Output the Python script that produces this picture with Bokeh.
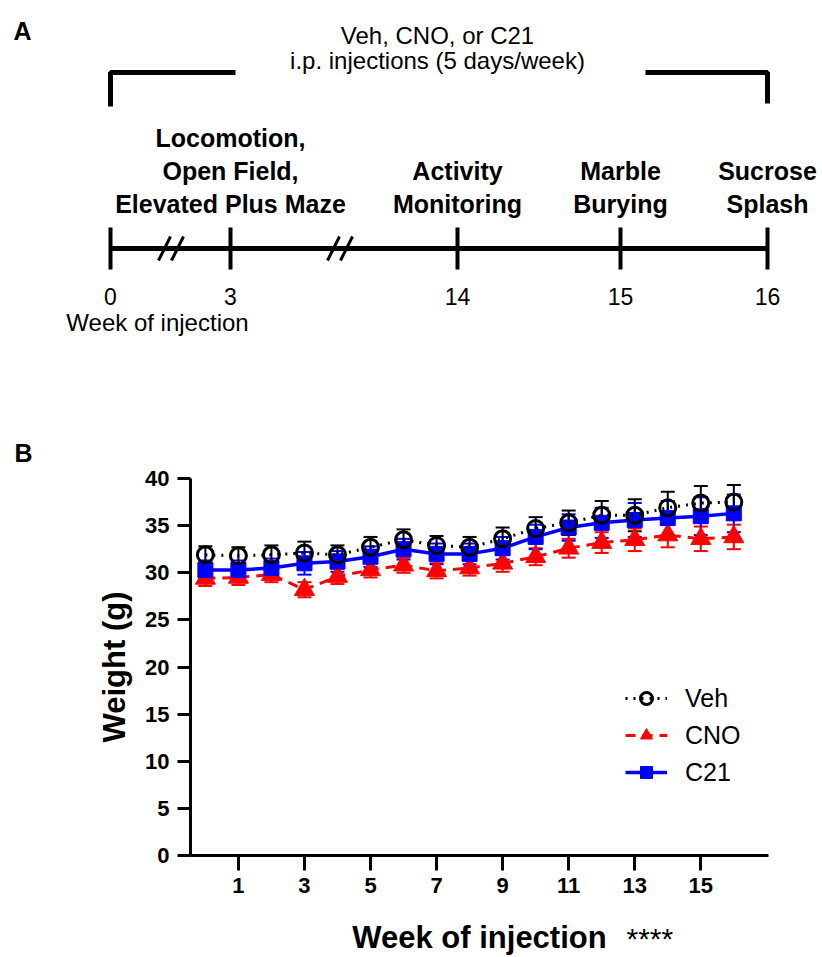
from bokeh.plotting import figure
from bokeh.models import (Range1d, Whisker, ColumnDataSource, Legend, LegendItem,
                          FixedTicker, TeeHead)
from bokeh.layouts import column
from bokeh.embed import file_html
from bokeh.resources import INLINE
from bokeh.core.properties import value

FONT = "Liberation Sans"

# ---------------- data ----------------
weeks = list(range(17))
veh_mean = [31.9, 31.8, 31.9, 32.1, 31.9, 32.7, 33.5, 32.9, 32.7, 33.6, 34.7, 35.3, 36.1, 36.1, 36.9, 37.4, 37.5]
veh_sem = [0.9, 0.9, 1.0, 1.2, 1.0, 1.1, 1.1, 1.0, 1.1, 1.2, 1.2, 1.3, 1.5, 1.7, 1.7, 1.8, 1.8]
cno_mean = [29.4, 29.5, 29.8, 28.2, 29.6, 30.3, 30.8, 30.2, 30.5, 31.0, 31.7, 32.6, 33.2, 33.5, 34.0, 33.6, 33.8]
cno_sem = [0.8, 0.8, 0.8, 0.8, 0.8, 0.8, 0.8, 0.8, 0.8, 0.9, 0.9, 1.0, 1.1, 1.2, 1.3, 1.3, 1.3]
c21_mean = [30.3, 30.3, 30.5, 31.0, 31.2, 31.7, 32.5, 32.0, 32.0, 32.6, 33.8, 34.8, 35.3, 35.6, 35.8, 36.0, 36.3]
c21_sem = [1.0, 1.0, 1.0, 1.2, 1.1, 1.1, 1.1, 1.1, 1.1, 1.2, 1.3, 1.4, 1.6, 1.8, 1.8, 2.0, 2.0]

y_ticks = [0, 5, 10, 15, 20, 25, 30, 35, 40]
x_ticks = [1, 3, 5, 7, 9, 11, 13, 15]

# timeline (panel A)
timeline_weeks = [0, 3, 14, 15, 16]
timeline_labels = ["0", "3", "14", "15", "16"]
stage_weeks = [3, 14, 15, 16]
stage_texts = [["Locomotion,", "Open Field,", "Elevated Plus Maze"],
               ["Activity", "Monitoring"],
               ["Marble", "Burying"],
               ["Sucrose", "Splash"]]
treatment_text = ["Veh, CNO, or C21", "i.p. injections (5 days/week)"]
significance = "****"

# ---------------- panel A (page pixel coordinates) ----------------
tl_pos = {0: 110, 3: 230, 14: 457, 15: 620, 16: 767}
PA_H = 466

pa = figure(width=822, height=PA_H, x_range=Range1d(0, 822), y_range=Range1d(PA_H, 0),
            output_backend="svg", toolbar_location=None, min_border=0,
            x_axis_type=None, y_axis_type=None)
pa.frame_align = False
pa.grid.visible = False
pa.outline_line_color = None

tl_y = 248
xs = [tl_pos[w] for w in timeline_weeks]
pa.segment(x0=[xs[0]], y0=[tl_y], x1=[xs[-1]], y1=[tl_y], line_color="black", line_width=5)
pa.segment(x0=xs, y0=[tl_y - 21] * len(xs), x1=xs, y1=[tl_y + 21] * len(xs),
           line_color="black", line_width=4)
# break marks
for bc in [172, 341]:
    pa.segment(x0=[bc - 14, bc - 1], y0=[tl_y + 12] * 2, x1=[bc - 2, bc + 11], y1=[tl_y - 12] * 2,
               line_color="black", line_width=3)
pa.text(x=xs, y=[tl_y + 48] * len(xs), text=timeline_labels, text_align="center",
        text_baseline="middle", text_font=value(FONT), text_font_size="23px", text_color="black")
pa.text(x=[157], y=[322], text=["Week of injection"], text_align="center", text_baseline="middle",
        text_font=value(FONT), text_font_size="24px", text_color="black")

# stage labels
for w, lines in zip(stage_weeks, stage_texts):
    n = len(lines)
    ys = [203 - 33 * (n - 1 - i) for i in range(n)]
    pa.text(x=[tl_pos[w]] * n, y=ys, text=lines, text_align="center", text_baseline="middle",
            text_font=value(FONT), text_font_style="bold", text_font_size="25px", text_color="black")

# bracket
pa.multi_line(xs=[[110, 110, 235], [645, 767, 767]], ys=[[106, 72, 72], [72, 72, 103]],
              line_color="black", line_width=5)
pa.text(x=[437, 437], y=[35, 60], text=treatment_text, text_align="center", text_baseline="middle",
        text_font=value(FONT), text_font_size="24px", text_color="black")
pa.text(x=[13, 14], y=[16, 438], text=["A", "B"], text_align="left", text_baseline="top",
        text_font=value(FONT), text_font_style="bold", text_font_size="25px", text_color="black")

# ---------------- panel B ----------------
PB_H = 957 - PA_H
pb = figure(width=822, height=PB_H, x_range=Range1d(-0.45, 17.05), y_range=Range1d(0, 40),
            output_backend="svg", toolbar_location=None,
            min_border_left=190, min_border_right=54, min_border_top=478 - PA_H,
            min_border_bottom=99)
pb.frame_align = False
pb.grid.visible = False
pb.outline_line_color = None

def whisk(mean, sem, color):
    src = ColumnDataSource(dict(x=weeks, upper=[m + s for m, s in zip(mean, sem)],
                                lower=[m - s for m, s in zip(mean, sem)]))
    w = Whisker(source=src, base="x", upper="upper", lower="lower", line_color=color, line_width=2,
                upper_head=TeeHead(size=14, line_color=color, line_width=2),
                lower_head=TeeHead(size=14, line_color=color, line_width=2))
    pb.add_layout(w)

whisk(cno_mean, cno_sem, "red")
whisk(c21_mean, c21_sem, "blue")
whisk(veh_mean, veh_sem, "black")

cno_l = pb.line(weeks, cno_mean, line_color="red", line_width=3, line_dash="10 7")
cno_s = pb.scatter(weeks, cno_mean, marker="triangle", size=20, fill_color="red", line_color="red")
c21_l = pb.line(weeks, c21_mean, line_color="blue", line_width=3.5)
c21_s = pb.scatter(weeks, c21_mean, marker="square", size=15, fill_color="blue", line_color="blue")
veh_l = pb.line(weeks, veh_mean, line_color="black", line_width=3, line_dash="2 6")
veh_s = pb.scatter(weeks, veh_mean, marker="circle", size=16, fill_color=None, line_color="black",
                   line_width=3)

for ax in (pb.xaxis[0], pb.yaxis[0]):
    ax.axis_line_width = 3
    ax.major_tick_line_width = 3
    ax.major_tick_in = 0
    ax.minor_tick_line_color = None
    ax.major_label_text_font = FONT
    ax.major_label_text_font_style = "bold"
    ax.major_label_text_font_size = "22px"
    ax.major_label_text_color = "black"
    ax.axis_label_text_font = FONT
    ax.axis_label_text_font_style = "bold"
    ax.axis_label_text_color = "black"

pb.yaxis.ticker = FixedTicker(ticks=y_ticks)
pb.xaxis.ticker = FixedTicker(ticks=x_ticks)
pb.yaxis.major_tick_out = 13
pb.xaxis.major_tick_out = 15
pb.yaxis.major_label_standoff = 8
pb.xaxis.major_label_standoff = 7
pb.yaxis.axis_label = "Weight (g)"
pb.xaxis.axis_label = "Week of injection"
pb.yaxis.axis_label_text_font_size = "31px"
pb.xaxis.axis_label_text_font_size = "31px"
pb.yaxis.axis_label_standoff = 10
pb.xaxis.axis_label_standoff = 24

legend = Legend(items=[LegendItem(label="Veh", renderers=[veh_l, veh_s]),
                       LegendItem(label="CNO", renderers=[cno_l, cno_s]),
                       LegendItem(label="C21", renderers=[c21_l, c21_s])],
                location=(435, 68), border_line_color=None, background_fill_alpha=0,
                label_text_font=FONT, label_text_font_size="25px", label_text_color="black",
                glyph_width=42, glyph_height=30, spacing=7, label_standoff=18, padding=0, margin=0)
pb.add_layout(legend)

# ---------------- transparent strip over the x-axis title for the significance mark ----------------
PC_H = 50
pc = figure(width=822, height=PC_H, x_range=Range1d(0, 822), y_range=Range1d(957, 957 - PC_H),
            output_backend="svg", toolbar_location=None, min_border=0,
            x_axis_type=None, y_axis_type=None,
            background_fill_alpha=0, border_fill_alpha=0)
pc.frame_align = False
pc.grid.visible = False
pc.outline_line_color = None
pc.margin = (-PC_H, 0, 0, 0)
pc.text(x=[626], y=[938], text=[significance], text_align="left", text_baseline="alphabetic",
        text_font=value(FONT), text_font_size="30px", text_color="black")

layout = column(pa, pb, pc, spacing=0)
open("out.html", "w").write(file_html(layout, INLINE))
